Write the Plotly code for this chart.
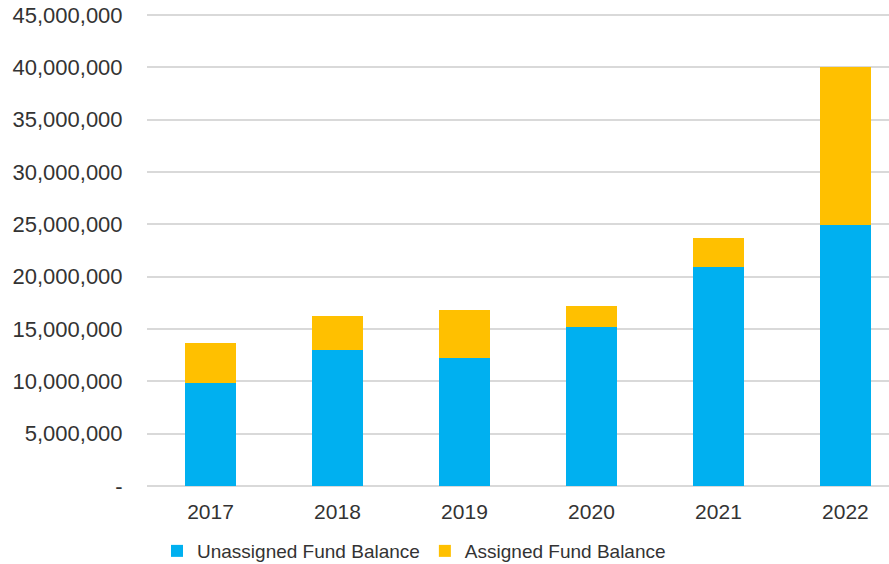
import plotly.graph_objects as go

years = ["2017", "2018", "2019", "2020", "2021", "2022"]
unassigned = [9800000, 13000000, 12200000, 15200000, 20900000, 24950000]
assigned = [3830000, 3250000, 4600000, 2000000, 2770000, 15050000]

y_ticks = [0, 5000000, 10000000, 15000000, 20000000, 25000000,
           30000000, 35000000, 40000000, 45000000]
y_labels = ["-", "5,000,000", "10,000,000", "15,000,000", "20,000,000",
            "25,000,000", "30,000,000", "35,000,000", "40,000,000", "45,000,000"]

fig = go.Figure()
fig.add_trace(go.Bar(x=years, y=unassigned, name="Unassigned Fund Balance",
                     marker=dict(color="#00B0F0", line=dict(width=0))))
fig.add_trace(go.Bar(x=years, y=assigned, name="Assigned Fund Balance",
                     marker=dict(color="#FFC000", line=dict(width=0))))

fig.update_layout(
    width=889, height=564,
    barmode="stack", bargap=0.6,
    plot_bgcolor="white", paper_bgcolor="white",
    margin=dict(l=147, r=0, t=12, b=78),
    font=dict(family="Liberation Sans, Arial", size=21, color="#333333"),
    showlegend=True,
    # container refs so the legend doesn't push the bottom margin
    legend=dict(orientation="h", xref="container", yref="container",
                x=0.1766, xanchor="left", y=0.023, yanchor="middle",
                font=dict(size=19, color="#333333"), traceorder="normal"),
)
fig.update_xaxes(range=[-0.5, 5.343], showgrid=False, showline=False,
                 automargin=False,
                 ticks="outside", ticklen=7, tickcolor="rgba(0,0,0,0)",
                 tickfont=dict(size=21))
fig.update_yaxes(range=[0, 45300000], tickvals=y_ticks, ticktext=y_labels,
                 automargin=False,
                 showgrid=True, gridcolor="#d9d9d9", gridwidth=1.5,
                 zeroline=True, zerolinecolor="#d9d9d9", zerolinewidth=1.5,
                 showline=False, ticks="outside", ticklen=19,
                 tickcolor="rgba(0,0,0,0)", tickfont=dict(size=22))

# drop the browser's default 8px body margin so the figure sits at the page corner
fig.write_html("out.html", config={"displayModeBar": False},
               post_script="document.body.style.margin='0px';")
